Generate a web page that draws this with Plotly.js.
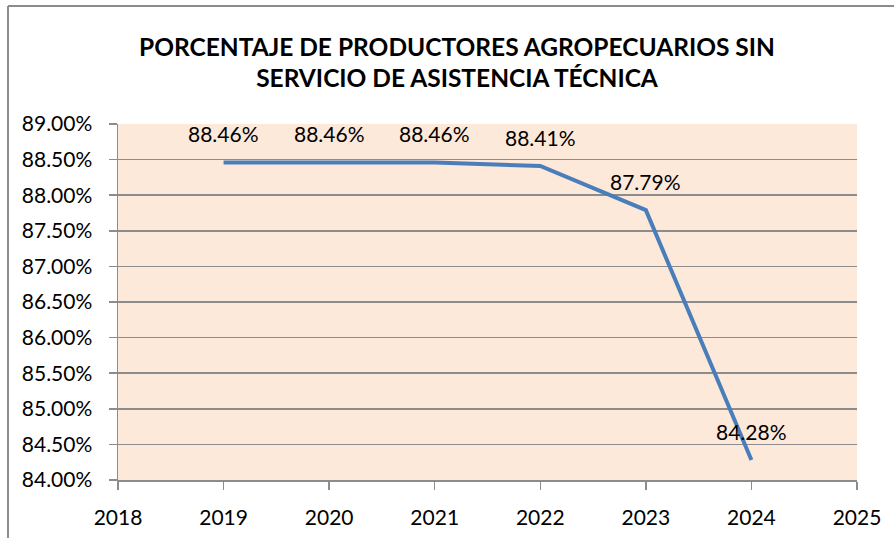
<!DOCTYPE html>
<html>
<head>
<meta charset="utf-8">
<script src="https://cdn.plot.ly/plotly-3.0.1.min.js"></script>
<style>html,body{margin:0;padding:0;background:#fff;}#chart{width:894px;height:538px;}</style>
</head>
<body>
<div id="chart"></div>
<script>
const years = [2019, 2020, 2021, 2022, 2023, 2024];
const values = [88.46, 88.46, 88.46, 88.41, 87.79, 84.28];
const titleText = 'PORCENTAJE DE PRODUCTORES AGROPECUARIOS SIN<br>SERVICIO DE ASISTENCIA TÉCNICA';
const xTicks = [2018, 2019, 2020, 2021, 2022, 2023, 2024, 2025];
const yTicks = [84, 84.5, 85, 85.5, 86, 86.5, 87, 87.5, 88, 88.5, 89];

const W = 894, H = 538;
const m = {l: 118, r: 37, t: 124, b: 58};
const pw = W - m.l - m.r, ph = H - m.t - m.b;
const px = v => (v - m.l) / pw;
const py = v => (H - m.b - v) / ph;

const font = 'Lato, "Open Sans", sans-serif';
const gridColor = '#8c8c8c';

const trace = {
  x: years, y: values, type: 'scatter', mode: 'lines',
  line: {color: '#4a7ebb', width: 4},
  hoverinfo: 'skip'
};

const annotations = years.map((yr, i) => ({
  x: yr, y: values[i], xref: 'x', yref: 'y',
  text: values[i].toFixed(2) + '%', showarrow: false,
  yshift: 29, font: {family: font, size: 21, color: '#000'}
}));

const layout = {
  width: W, height: H,
  margin: m,
  paper_bgcolor: '#fff', plot_bgcolor: '#fde9d9',
  showlegend: false,
  title: {
    text: titleText,
    font: {family: font, size: 24.5, color: '#000', weight: 'bold'},
    xref: 'container', yref: 'container',
    x: 457 / W, y: 1 - 55.5 / H, xanchor: 'center', yanchor: 'middle'
  },
  xaxis: {
    range: [2018, 2025], tickvals: xTicks, ticktext: xTicks.map(String),
    showgrid: false, zeroline: false,
    showline: true, linecolor: gridColor, linewidth: 1.5,
    ticks: 'outside', ticklen: 8, tickcolor: gridColor, tickwidth: 1.5,
    ticklabelstandoff: 10,
    tickfont: {family: font, size: 21, color: '#000'}
  },
  yaxis: {
    range: [84, 89], tickvals: yTicks, ticktext: yTicks.map(v => v.toFixed(2) + '%'),
    showgrid: true, gridcolor: gridColor, gridwidth: 1.5, zeroline: false,
    showline: true, linecolor: gridColor, linewidth: 1.5,
    ticks: 'outside', ticklen: 8, tickcolor: gridColor, tickwidth: 1.5,
    ticklabelstandoff: 12,
    tickfont: {family: font, size: 21, color: '#000'}
  },
  annotations: annotations,
  shapes: [
    {type: 'line', xref: 'paper', yref: 'paper', x0: px(8), x1: px(900), y0: py(6), y1: py(6), line: {color: gridColor, width: 2}},
    {type: 'line', xref: 'paper', yref: 'paper', x0: px(8), x1: px(8), y0: py(6), y1: py(545), line: {color: gridColor, width: 2}}
  ]
};

Plotly.newPlot('chart', [trace], layout, {displayModeBar: false, staticPlot: true});
</script>
</body>
</html>
